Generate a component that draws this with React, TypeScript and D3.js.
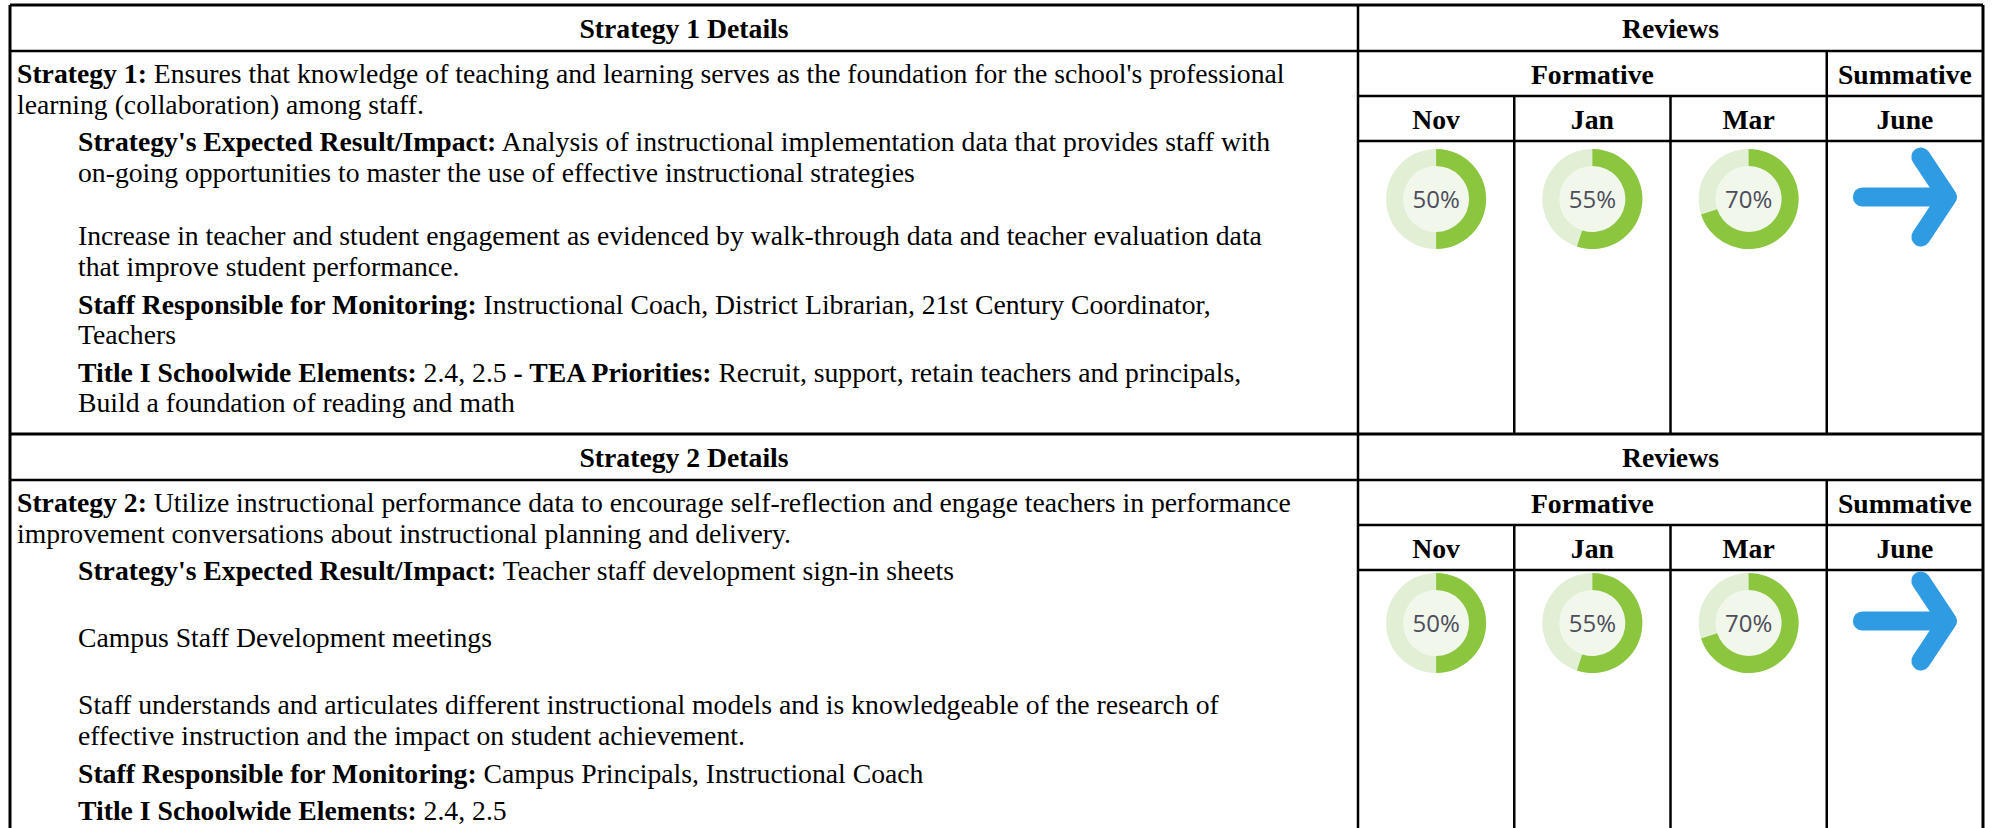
import React from "react";
import * as d3 from "d3";

// review columns
const formativeMonths = ["Nov", "Jan", "Mar"];
const summativeMonths = ["June"];
const months = [...formativeMonths, ...summativeMonths];

// percent complete at each formative review
const strategy1Progress = [50, 55, 70];
const strategy2Progress = [50, 55, 70];

const sectionTitles = ["Strategy 1 Details", "Strategy 2 Details"];

type Seg = [string, boolean];
type Gap = "none" | "para" | "blank" | "sep";
type Line = { indent: number; gap: Gap; parts: Seg[] };

const strategy1Text: Line[] = [
  { indent: 0, gap: "none", parts: [["Strategy 1:", true], [" Ensures that knowledge of teaching and learning serves as the foundation for the school's professional", false]] },
  { indent: 0, gap: "none", parts: [["learning (collaboration) among staff.", false]] },
  { indent: 1, gap: "para", parts: [["Strategy's Expected Result/Impact:", true], [" Analysis of instructional implementation data that provides staff with", false]] },
  { indent: 1, gap: "none", parts: [["on-going opportunities to master the use of effective instructional strategies", false]] },
  { indent: 1, gap: "blank", parts: [["Increase in teacher and student engagement as evidenced by walk-through data and teacher evaluation data", false]] },
  { indent: 1, gap: "none", parts: [["that improve student performance.", false]] },
  { indent: 1, gap: "para", parts: [["Staff Responsible for Monitoring:", true], [" Instructional Coach, District Librarian, 21st Century Coordinator,", false]] },
  { indent: 1, gap: "none", parts: [["Teachers", false]] },
  { indent: 1, gap: "para", parts: [["Title I Schoolwide Elements:", true], [" 2.4, 2.5 ", false], ["- TEA Priorities:", true], [" Recruit, support, retain teachers and principals,", false]] },
  { indent: 1, gap: "none", parts: [["Build a foundation of reading and math", false]] },
];

const strategy2Text: Line[] = [
  { indent: 0, gap: "none", parts: [["Strategy 2:", true], [" Utilize instructional performance data to encourage self-reflection and engage teachers in performance", false]] },
  { indent: 0, gap: "none", parts: [["improvement conversations about instructional planning and delivery.", false]] },
  { indent: 1, gap: "para", parts: [["Strategy's Expected Result/Impact:", true], [" Teacher staff development sign-in sheets", false]] },
  { indent: 1, gap: "sep", parts: [["Campus Staff Development meetings", false]] },
  { indent: 1, gap: "sep", parts: [["Staff understands and articulates different instructional models and is knowledgeable of the research of", false]] },
  { indent: 1, gap: "none", parts: [["effective instruction and the impact on student achievement.", false]] },
  { indent: 1, gap: "para", parts: [["Staff Responsible for Monitoring:", true], [" Campus Principals, Instructional Coach", false]] },
  { indent: 1, gap: "para", parts: [["Title I Schoolwide Elements:", true], [" 2.4, 2.5", false]] },
];

const sections = [
  { title: sectionTitles[0], text: strategy1Text, progress: strategy1Progress },
  { title: sectionTitles[1], text: strategy2Text, progress: strategy2Progress },
];

const W = 1993;
const H = 828;
const left = 10;
const split = 1358;
const right = 1983;
const sectionTops = [5, 434];
const donutOffsets = [58, 53];
const headH = 46;
const subH = 45;
const serif = "'Liberation Serif', 'Times New Roman', serif";
const fontSize = 27.7;
const lineH = 30.6;
const gapExtra: Record<Gap, number> = { none: 0, para: 7, blank: 33, sep: 36.5 };

const green = "#8cc63f";
const track = "#e1efd4";
const innerFill = "#f1f7ea";
const blue = "#2e9be3";

export default function App() {
  const x = d3.scaleBand().domain(months).range([split, right]);
  const outerR = 50;
  const innerR = 33;
  const ring = d3.arc<any>().innerRadius(innerR).outerRadius(outerR);
  const arrowLine = d3.line();

  const hline = (y: number, x1: number, x2: number, w = 2.5) => (
    <line x1={x1} x2={x2} y1={y} y2={y} stroke="#000" strokeWidth={w} />
  );
  const vline = (xx: number, y1: number, y2: number, w = 2.5) => (
    <line x1={xx} x2={xx} y1={y1} y2={y2} stroke="#000" strokeWidth={w} />
  );

  return (
    <svg
      width={W}
      height={H}
      style={{ position: "absolute", left: 0, top: 0, background: "#fff" }}
    >
      <rect width={W} height={H} fill="#fff" />
      {sections.map((sec, si) => {
        const top = sectionTops[si];
        const bottom = si + 1 < sectionTops.length ? sectionTops[si + 1] : H + 10;
        const r1 = top + headH;
        const r2 = r1 + subH;
        const r3 = r2 + subH;
        const mid = (a: number, b: number) => (a + b) / 2 + 10;

        // text layout
        let y = r1 + 32;
        const textLines = sec.text.map((ln, i) => {
          if (i > 0) y += lineH + gapExtra[ln.gap];
          return { ...ln, y };
        });

        const donutY = r3 + donutOffsets[si];
        return (
          <g key={si}>
            {/* grid */}
            {hline(top, left, right, 3)}
            {hline(r1, left, right)}
            {hline(r2, split, right)}
            {hline(r3, split, right)}
            {vline(left, top, bottom, 3)}
            {vline(split, top, bottom)}
            {vline(right, top, bottom, 3)}
            {vline(x("June")!, r1, bottom)}
            {formativeMonths.slice(1).map((m) => (
              <g key={m}>{vline(x(m)!, r2, bottom)}</g>
            ))}

            {/* headers */}
            <text x={(left + split) / 2} y={mid(top, r1)} textAnchor="middle"
              fontFamily={serif} fontWeight="bold" fontSize={fontSize}>{sec.title}</text>
            <text x={(split + right) / 2} y={mid(top, r1)} textAnchor="middle"
              fontFamily={serif} fontWeight="bold" fontSize={fontSize}>Reviews</text>
            <text x={(split + x("June")!) / 2} y={mid(r1, r2)} textAnchor="middle"
              fontFamily={serif} fontWeight="bold" fontSize={fontSize}>Formative</text>
            <text x={x("June")! + x.bandwidth() / 2} y={mid(r1, r2)} textAnchor="middle"
              fontFamily={serif} fontWeight="bold" fontSize={fontSize}>Summative</text>
            {months.map((m) => (
              <text key={m} x={x(m)! + x.bandwidth() / 2} y={mid(r2, r3)} textAnchor="middle"
                fontFamily={serif} fontWeight="bold" fontSize={fontSize}>{m}</text>
            ))}

            {/* strategy text */}
            {textLines.map((ln, i) => (
              <text key={i} x={ln.indent ? 78 : 17} y={ln.y} fontFamily={serif}
                fontSize={fontSize} style={{ whiteSpace: "pre" }}>
                {ln.parts.map(([t, b], j) => (
                  <tspan key={j} fontWeight={b ? "bold" : "normal"}>{t}</tspan>
                ))}
              </text>
            ))}

            {/* formative donuts */}
            {formativeMonths.map((m, i) => {
              const cx = x(m)! + x.bandwidth() / 2;
              const v = sec.progress[i];
              return (
                <g key={m} transform={`translate(${cx},${donutY})`}>
                  <circle r={innerR} fill={innerFill} />
                  <path d={ring({ startAngle: 0, endAngle: Math.PI * 2 })!} fill={track} />
                  <path d={ring({ startAngle: 0, endAngle: (v / 100) * Math.PI * 2 })!} fill={green} />
                  <text textAnchor="middle" dy="0.36em" fontFamily="'Open Sans', sans-serif"
                    fontSize={24} fill="#4d4d5c">{v}%</text>
                </g>
              );
            })}

            {/* summative: continue arrow */}
            {summativeMonths.map((m) => {
              const cx = x(m)! + x.bandwidth() / 2;
              const cy = donutY - 2;
              return (
                <g key={m} fill="none" stroke={blue} strokeWidth={19}
                  strokeLinecap="round" strokeLinejoin="round">
                  <path d={arrowLine([[cx - 42.5, cy], [cx + 40, cy]])!} />
                  <path d={arrowLine([[cx + 16, cy - 40], [cx + 42.5, cy], [cx + 16, cy + 40]])!} />
                </g>
              );
            })}
          </g>
        );
      })}
    </svg>
  );
}
